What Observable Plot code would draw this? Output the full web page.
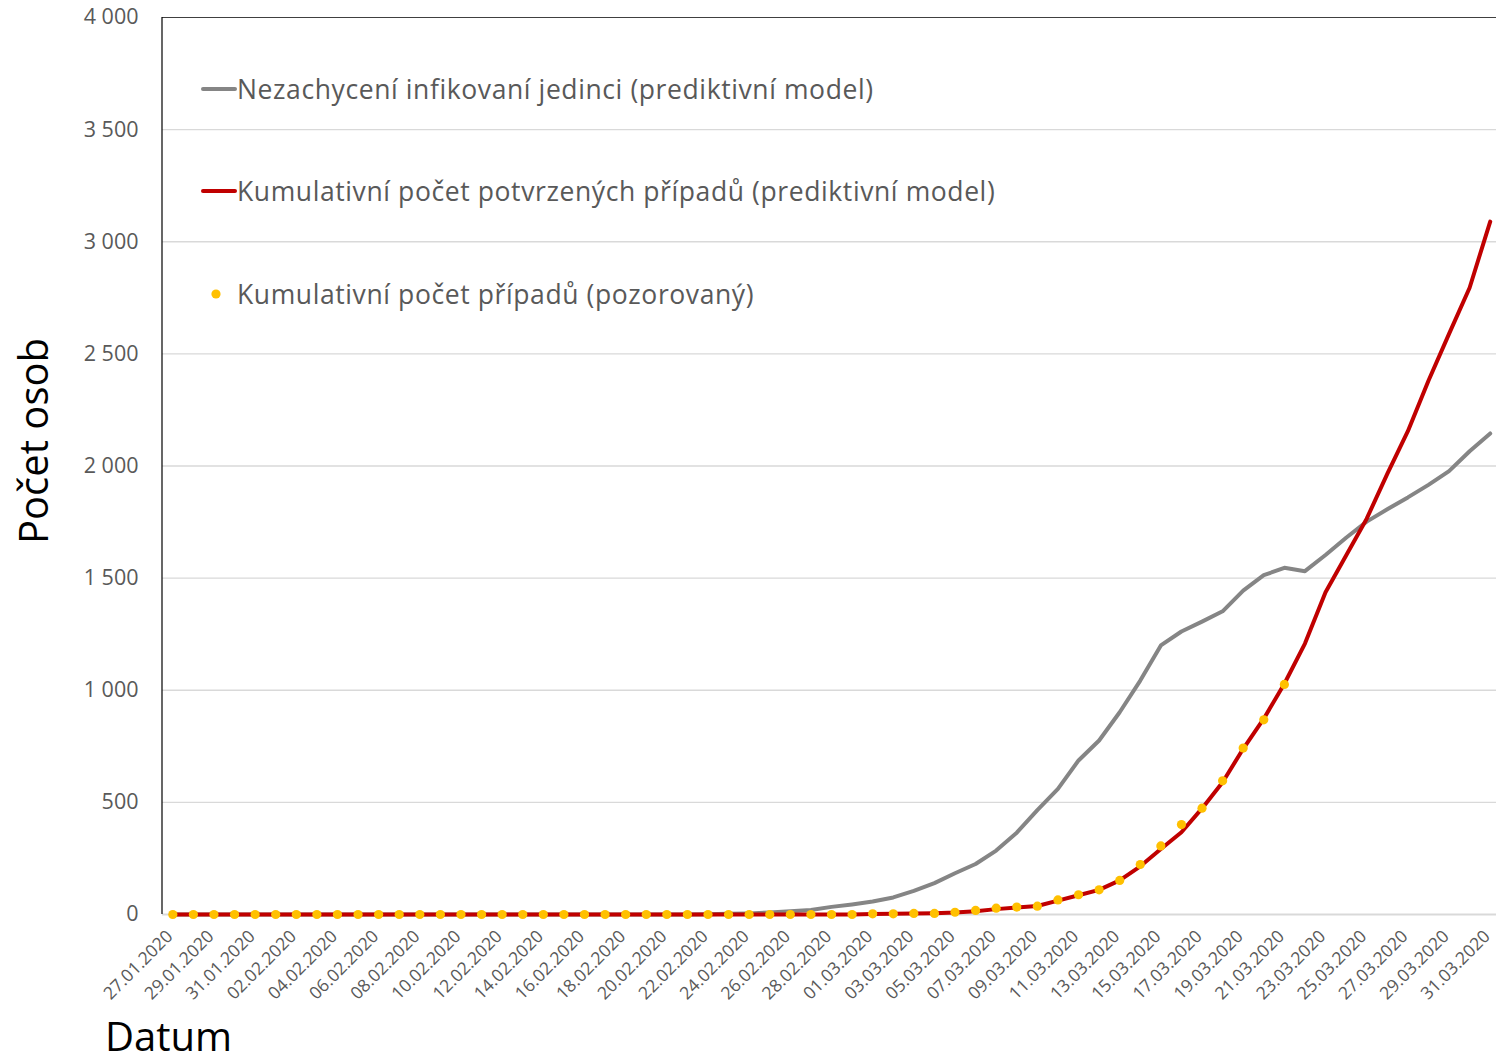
<!DOCTYPE html>
<html><head><meta charset="utf-8">
<script src="https://cdn.jsdelivr.net/npm/d3@7"></script>
<script src="https://cdn.jsdelivr.net/npm/@observablehq/plot@0.6"></script>
<style>
body{margin:0;background:#fff;}
#wrap{position:relative;width:1496px;height:1062px;overflow:hidden;font-family:"Open Sans", sans-serif;}
.leg{position:absolute;left:201px;display:flex;align-items:center;height:30px;font-size:26.5px;letter-spacing:0.6px;color:#595959;white-space:nowrap;}
.leg svg{flex:none;}
</style></head><body><div id="wrap"></div>
<script>
const dates = ["27.01.2020","28.01.2020","29.01.2020","30.01.2020","31.01.2020",
"01.02.2020","02.02.2020","03.02.2020","04.02.2020","05.02.2020","06.02.2020","07.02.2020","08.02.2020","09.02.2020","10.02.2020",
"11.02.2020","12.02.2020","13.02.2020","14.02.2020","15.02.2020","16.02.2020","17.02.2020","18.02.2020","19.02.2020","20.02.2020",
"21.02.2020","22.02.2020","23.02.2020","24.02.2020","25.02.2020","26.02.2020","27.02.2020","28.02.2020","29.02.2020",
"01.03.2020","02.03.2020","03.03.2020","04.03.2020","05.03.2020","06.03.2020","07.03.2020","08.03.2020","09.03.2020","10.03.2020",
"11.03.2020","12.03.2020","13.03.2020","14.03.2020","15.03.2020","16.03.2020","17.03.2020","18.03.2020","19.03.2020","20.03.2020",
"21.03.2020","22.03.2020","23.03.2020","24.03.2020","25.03.2020","26.03.2020","27.03.2020","28.03.2020","29.03.2020","30.03.2020","31.03.2020"];

// Nezachycení infikovaní jedinci (prediktivní model)
const unreported = [0,0,0,0,0,0,0,0,0,0,0,0,0,0,0,0,0,0,0,0,0,0,0,0,0,0,
  1,3,5,9,14,20,34,45,58,76,105,140,184,225,285,365,465,560,687,776,902,1043,1200,
  1262,1306,1352,1444,1513,1546,1531,1603,1680,1752,1807,1860,1916,1977,2066,2145];

// Kumulativní počet potvrzených případů (prediktivní model)
const predicted = [0,0,0,0,0,0,0,0,0,0,0,0,0,0,0,0,0,0,0,0,0,0,0,0,0,0,0,0,0,0,0,0,0,0,
  2,3,4,6,9,15,24,31,38,62,86,110,152,215,292,367,473,590,739,873,1029,
  1208,1437,1601,1765,1965,2155,2380,2589,2795,3090];

// Kumulativní počet případů (pozorovaný)
const observed = [0,0,0,0,0,0,0,0,0,0,0,0,0,0,0,0,0,0,0,0,0,0,0,0,0,0,0,0,0,0,0,0,0,0,
  3,3,5,5,10,18,28,33,37,65,88,110,152,223,306,401,474,596,742,868,1026];

const yTicks = [0,500,1000,1500,2000,2500,3000,3500,4000];
const xTicks = dates.filter((d, i) => i % 2 === 0);
const legendLabels = [
  "Nezachycení infikovaní jedinci (prediktivní model)",
  "Kumulativní počet potvrzených případů (prediktivní model)",
  "Kumulativní počet případů (pozorovaný)"
];
const yTitle = "Počet osob";
const xTitle = "Datum";

const colors = {gray: "#858585", red: "#c00000", yellow: "#ffc000"};

const grayData = unreported.map((v, i) => ({date: dates[i], value: v}));
const redData = predicted.map((v, i) => ({date: dates[i], value: v}));
const obsData = observed.map((v, i) => ({date: dates[i], value: v}));

const M = {top: 17, left: 162, bottom: 148, right: 0};
const W = 1496, H = 1062;
const spaceFmt = d => d3.format(",")(d).replace(/,/g, "\u00a0");

const chart = Plot.plot({
  width: W, height: H,
  marginTop: M.top, marginLeft: M.left, marginBottom: M.bottom, marginRight: M.right,
  style: {fontFamily: "'Open Sans', sans-serif", color: "#595959", background: "white", overflow: "hidden"},
  x: {type: "point", domain: dates, padding: 0.5, range: [M.left, 1500]},
  y: {domain: [0, 4000]},
  marks: [
    Plot.gridY(yTicks.filter(d => d > 0 && d < 4000), {stroke: "#d9d9d9", strokeOpacity: 1, strokeWidth: 1.3}),
    Plot.ruleY([0], {stroke: "#d9d9d9", strokeWidth: 2.2}),
    Plot.ruleY([4000], {stroke: "#404040", strokeWidth: 1.2}),
    () => {
      const g = d3.create("svg:g");
      g.append("line").attr("x1", M.left).attr("x2", M.left)
        .attr("y1", M.top).attr("y2", H - M.bottom)
        .attr("stroke", "#000").attr("stroke-width", 1.2);
      return g.node();
    },
    Plot.axisY({ticks: yTicks, tickFormat: spaceFmt, tickSize: 0, tickPadding: 24, fontSize: 21.5, label: null}),
    Plot.axisX({ticks: xTicks, tickSize: 0, tickPadding: 19, dx: -3, tickRotate: -45, fontSize: 17.5, label: null}),
    Plot.line(grayData, {x: "date", y: "value", stroke: colors.gray, strokeWidth: 4, strokeLinejoin: "round", strokeLinecap: "round"}),
    Plot.line(redData, {x: "date", y: "value", stroke: colors.red, strokeWidth: 4, strokeLinejoin: "round", strokeLinecap: "round"}),
    Plot.dot(obsData, {x: "date", y: "value", r: 4.6, fill: colors.yellow, stroke: "none"}),
    Plot.text([yTitle], {frameAnchor: "left", dx: -127, dy: -25, rotate: -90, fontSize: 40, fill: "black", textAnchor: "middle", lineAnchor: "middle"}),
    Plot.text([xTitle], {frameAnchor: "bottom-left", dx: 6, dy: 124, fontSize: 40, fill: "black", textAnchor: "middle", lineAnchor: "middle"})
  ]
});

const wrap = document.getElementById("wrap");
wrap.appendChild(chart);

// Legend (inside plot area, top-left)
const rowCenters = [89, 191, 294];
const swatches = [
  `<svg width="36" height="10"><line x1="2" x2="34" y1="5" y2="5" stroke="${colors.gray}" stroke-width="4" stroke-linecap="round"/></svg>`,
  `<svg width="36" height="10"><line x1="2" x2="34" y1="5" y2="5" stroke="${colors.red}" stroke-width="4" stroke-linecap="round"/></svg>`,
  `<svg width="36" height="10"><circle cx="15" cy="5" r="4.6" fill="${colors.yellow}"/></svg>`
];
legendLabels.forEach((lab, i) => {
  const d = document.createElement("div");
  d.className = "leg";
  d.style.top = (rowCenters[i] - 15) + "px";
  d.innerHTML = swatches[i] + `<span>${lab}</span>`;
  wrap.appendChild(d);
});
</script>
</body></html>
